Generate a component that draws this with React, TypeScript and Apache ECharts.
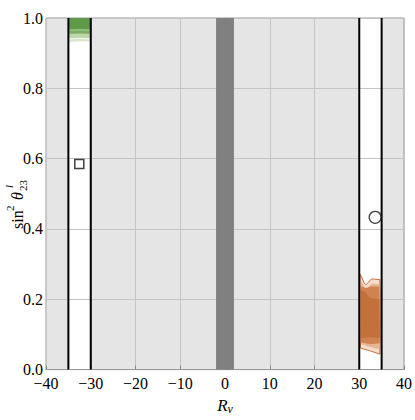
import { useEffect, useRef } from 'react';
import * as echarts from 'echarts';

// ---- data ----
const xTicks = [-40, -30, -20, -10, 0, 10, 20, 30, 40];
const yTicks = [0, 0.2, 0.4, 0.6, 0.8, 1.0];
const plotBackground = [[-40, 40]];
const whiteBands = [[-35, -30], [30, 35]];
const darkBand = [[-2, 2]];
const boundaryLines = [-35, -30, 30, 35];

// green allowed region (left band, top) — nested levels, outer first
const greenContours = [
  [[-35, 0.932], [-32.5, 0.934], [-30, 0.933], [-30, 1], [-35, 1]],
  [[-35, 0.939], [-32.5, 0.940], [-30, 0.939], [-30, 1], [-35, 1]],
  [[-35, 0.943], [-32.5, 0.944], [-30, 0.943], [-30, 1], [-35, 1]],
  [[-35, 0.955], [-32.5, 0.956], [-30, 0.955], [-30, 1], [-35, 1]],
  [[-35, 0.962], [-32.5, 0.963], [-30, 0.962], [-30, 1], [-35, 1]],
  [[-35, 0.968], [-32.5, 0.969], [-30, 0.968], [-30, 1], [-35, 1]],
];

// orange allowed region (right band, bottom) — nested levels, outer first
const orangeContours = [
  [[30.2, 0.272], [31.2, 0.244], [31.6, 0.242], [32.7, 0.258], [34.6, 0.256], [34.7, 0.21], [34.7, 0.1], [34.6, 0.044], [32.5, 0.053], [30.3, 0.061], [30.1, 0.15]],
  [[30.3, 0.255], [31.2, 0.232], [31.8, 0.23], [32.8, 0.245], [34.5, 0.243], [34.6, 0.1], [34.5, 0.058], [32.5, 0.064], [30.4, 0.072], [30.2, 0.15]],
  [[30.3, 0.238], [31.5, 0.232], [32.5, 0.236], [34.5, 0.236], [34.6, 0.075], [32.5, 0.072], [30.3, 0.078]],
  [[30.3, 0.226], [31.5, 0.22], [32.2, 0.205], [34.5, 0.2], [34.6, 0.09], [32.5, 0.092], [30.3, 0.09]],
];

const squarePoint = [[-32.56, 0.585]];
const circlePoint = [[33.56, 0.433]];

// ---- styles ----
const greenFills = ['#d8e8cc', '#eef5e8', '#bcd6aa', '#7aac64', '#93bf80', '#5e9a48'];
const orangeFills = ['#f6dccb', '#e8b692', '#d08350', '#c4703a'];
const FONT = 'Liberation Serif';

const fmtX = (v: number) => (v < 0 ? '\u2212' + Math.abs(v) : String(v));

export default function App() {
  const ref = useRef<HTMLDivElement>(null);
  useEffect(() => {
    const chart = echarts.init(ref.current!, null, { renderer: 'svg' });

    const bandSeries = (bands: number[][], fill: string, z: number) => ({
      type: 'custom',
      z,
      silent: true,
      data: bands.map((b) => [b[0], 0]),
      renderItem: (params: any, api: any) => {
        const b = bands[params.dataIndex];
        const p0 = api.coord([b[0], 1]);
        const p1 = api.coord([b[1], 0]);
        return {
          type: 'rect',
          shape: { x: p0[0], y: p0[1], width: p1[0] - p0[0], height: p1[1] - p0[1] },
          style: { fill },
        };
      },
    });

    const contourSeries = (polys: number[][][], fills: string[], stroke: string | null) => ({
      type: 'custom',
      z: 3,
      silent: true,
      clip: true,
      data: polys.map((p) => p[0]),
      renderItem: (params: any, api: any) => {
        const i = params.dataIndex;
        const poly = polys[i];
        return {
          type: 'polygon',
          shape: { points: poly.map((pt) => api.coord(pt)) },
          style: {
            fill: fills[i],
            stroke: i === 0 && stroke ? stroke : 'none',
            lineWidth: i === 0 && stroke ? 1 : 0,
          },
        };
      },
    });

    const txt = (text: string, x: number, y: number, size: number, italic = false) => ({
      type: 'text',
      x,
      y,
      style: {
        text,
        fontFamily: FONT,
        fontStyle: italic ? 'italic' : 'normal',
        fontSize: size,
        fill: '#000',
        textAlign: 'left',
        textVerticalAlign: 'middle',
        verticalAlign: 'middle',
      },
    });

    const labelRich = { t: { fontFamily: FONT, fontSize: 16, color: '#000', lineHeight: 12 } };

    const option: any = {
      animation: false,
      textStyle: { fontFamily: FONT },
      grid: {
        left: 46,
        right: 9,
        top: 18,
        bottom: 42,
        show: true,
        backgroundColor: 'transparent',
        borderColor: '#999',
        borderWidth: 1,
      },
      xAxis: {
        type: 'value',
        min: -40,
        max: 40,
        interval: 10,
        axisLine: { show: true, lineStyle: { color: '#999', width: 1 } },
        axisTick: { show: true, inside: true, length: 4, lineStyle: { color: '#888' } },
        splitLine: { show: true, lineStyle: { color: '#c4c4c4', width: 1 } },
        axisLabel: {
          fontFamily: FONT,
          fontSize: 16,
          color: '#000',
          margin: 8,
          lineHeight: 12,
          rich: labelRich,
          formatter: (v: number) => (xTicks.includes(v) ? '{t|' + fmtX(v) + '}' : ''),
        },
        name: '{i|R}{s|\u03bd}',
        nameLocation: 'middle',
        nameGap: 21,
        nameTextStyle: {
          rich: {
            i: { fontFamily: FONT, fontStyle: 'italic', fontSize: 17, color: '#000', lineHeight: 20, verticalAlign: 'middle' },
            s: { fontFamily: FONT, fontStyle: 'italic', fontSize: 12, color: '#000', lineHeight: 20, verticalAlign: 'bottom', padding: [6, 0, 0, 0] },
          },
        },
      },
      yAxis: {
        type: 'value',
        min: 0,
        max: 1,
        interval: 0.2,
        axisLine: { show: true, lineStyle: { color: '#999', width: 1 } },
        axisTick: { show: true, inside: true, length: 4, lineStyle: { color: '#888' } },
        minorTick: { show: true, splitNumber: 4, length: 2, lineStyle: { color: '#999' } },
        splitLine: { show: true, lineStyle: { color: '#c4c4c4', width: 1 } },
        axisLabel: {
          fontFamily: FONT,
          fontSize: 16,
          color: '#000',
          margin: 3,
          lineHeight: 12,
          rich: labelRich,
          formatter: (v: number) => {
            const t = yTicks.find((y) => Math.abs(y - v) < 1e-9);
            return t === undefined ? '' : '{t|' + t.toFixed(1) + '}';
          },
        },
      },
      graphic: [
        {
          type: 'group',
          x: 17,
          y: 229,
          rotation: Math.PI / 2,
          silent: true,
          children: [
            txt('sin', 0, 0, 16),
            txt('2', 18, -7, 11),
            txt('\u03b8', 29, 0, 16, true),
            txt('23', 38, 6, 11),
            txt('l', 41, -8, 11, true),
          ],
        },
      ],
      series: [
        bandSeries(plotBackground, '#e5e5e5', -3),
        bandSeries(whiteBands, '#ffffff', -2),
        bandSeries(darkBand, '#808080', 1),
        contourSeries(greenContours, greenFills, null),
        contourSeries(orangeContours, orangeFills, '#c8743f'),
        {
          type: 'custom',
          z: 5,
          silent: true,
          data: boundaryLines.map((x) => [x, 0]),
          renderItem: (params: any, api: any) => {
            const x = boundaryLines[params.dataIndex];
            const a = api.coord([x, 0]);
            const b = api.coord([x, 1]);
            return {
              type: 'line',
              shape: { x1: a[0], y1: a[1], x2: b[0], y2: b[1] },
              style: { stroke: '#000', lineWidth: 2 },
            };
          },
        },
        {
          type: 'scatter',
          z: 6,
          silent: true,
          symbol: 'rect',
          symbolSize: 9,
          data: squarePoint,
          itemStyle: { color: '#fff', borderColor: '#111', borderWidth: 1.5 },
        },
        {
          type: 'scatter',
          z: 6,
          silent: true,
          symbol: 'circle',
          symbolSize: 12,
          data: circlePoint,
          itemStyle: { color: 'rgba(255,255,255,0)', borderColor: '#111', borderWidth: 1.3 },
        },
      ],
    };
    chart.setOption(option);
    return () => chart.dispose();
  }, []);
  return <div ref={ref} style={{ width: 415, height: 420, position: 'absolute', left: 0, top: 0 }} />;
}
